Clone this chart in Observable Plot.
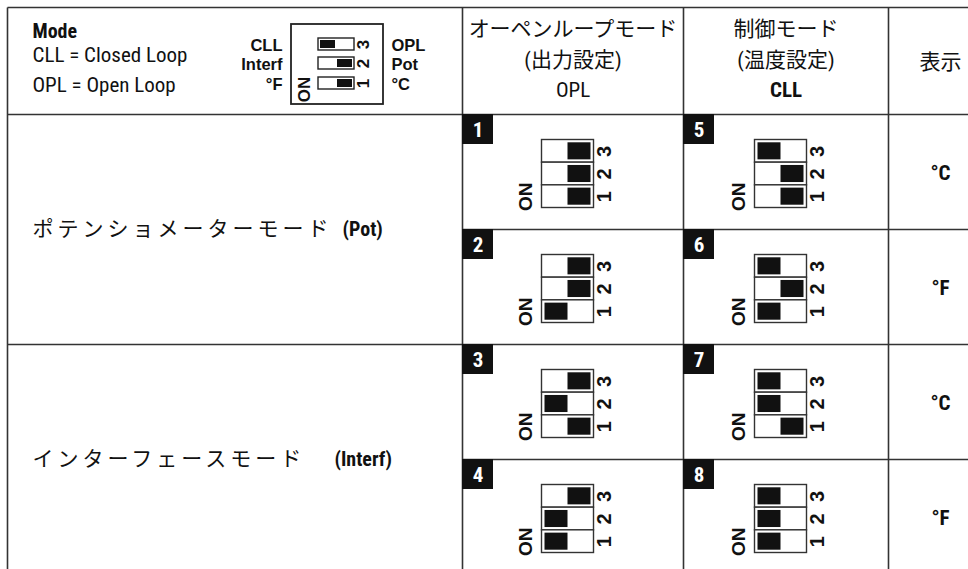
<!DOCTYPE html>
<html><head><meta charset="utf-8">
<script src="https://cdn.jsdelivr.net/npm/d3@7"></script>
<script src="https://cdn.jsdelivr.net/npm/@observablehq/plot@0.6"></script>
<style>
body{margin:0;background:#fff;}
</style>
</head><body><div id="chart"></div>
<script>
// ---------- DATA ----------
const modeLegendTitle = "Mode";
const modeLegendLines = ["CLL = Closed Loop", "OPL = Open Loop"];
const switchDigits = ["3", "2", "1"];            // top to bottom
const legendLeftLabels = ["CLL", "Interf", "°F"];
const legendRightLabels = ["OPL", "Pot", "°C"];
const legendKnobs = ["L", "R", "R"];              // switch 3,2,1
const onLabel = "ON";
const loopHeaderLines = [["オーペンループモード", "(出力設定)", "OPL"], ["制御モード", "(温度設定)", "CLL"]];
const unitHeader = "表示";
const modeNames = ["ポテンショメーターモード", "インターフェースモード"];
const modeCodes = ["(Pot)", "(Interf)"];
const unitLabels = ["°C", "°F", "°C", "°F"];
const settingNumbers = ["1", "2", "3", "4", "5", "6", "7", "8"];
const settingLoopCol = [0, 0, 0, 0, 1, 1, 1, 1];
const settingRow = [0, 1, 2, 3, 0, 1, 2, 3];
const switch3 = ["R", "R", "R", "R", "L", "L", "L", "L"];
const switch2 = ["R", "R", "L", "L", "R", "R", "L", "L"];
const switch1 = ["R", "L", "R", "L", "R", "L", "R", "L"];

// ---------- LAYOUT ----------
const W = 968, H = 569;
const colEdges = [7, 462, 683, 888, 992];
const rowEdges = [7, 114, 229, 344, 459, 574];
const fontCond = '"Liberation Sans Narrow","Roboto Condensed","DejaVu Sans Condensed",Roboto,sans-serif';
const fontSans = '"Liberation Sans",Arial,sans-serif';
const fontJP = '"Liberation Sans Narrow","Roboto Condensed","Noto Sans CJK JP",sans-serif';
const ink = "#111";
const lineCol = "#333";
const headerLineY = [29, 60, 90];
const legendBox = {x1: 291, x2: 383, y1: 24, y2: 104};
const legendSlot = {x1: 318, x2: 354, h: 12, ys: [44, 63, 83], knobW: 15, knobH: 8};
const blockW = 52, blockH = 68, slotH = blockH / 3;

// grid lines
const gridLines = [];
rowEdges.forEach((y, i) => {
  const start = (i === 2 || i === 4) ? colEdges[1] : colEdges[0];
  gridLines.push({x1: start, x2: colEdges[4], y1: y, y2: y});
});
colEdges.slice(0, 4).forEach(x => gridLines.push({x1: x, x2: x, y1: rowEdges[0], y2: rowEdges[5]}));

// header texts
const titleText = [{t: modeLegendTitle, x: 32, y: 31}];
const legendLineTexts = modeLegendLines.map((t, i) => ({t, x: 32, y: 55 + i * 30}));
const loopTexts = [];
loopHeaderLines.forEach((lines, c) => {
  const cx = (colEdges[c + 1] + colEdges[c + 2]) / 2;
  lines.forEach((t, k) => loopTexts.push({t, x: cx, y: headerLineY[k], bold: k === 2 && c === 1}));
});
loopTexts.push({t: unitHeader, x: (colEdges[3] + colEdges[4]) / 2, y: 62, bold: false});

// legend diagram
const legendSlots = legendSlot.ys.map(y => ({x1: legendSlot.x1, x2: legendSlot.x2, y1: y - legendSlot.h / 2, y2: y + legendSlot.h / 2}));
const legendKnobRects = legendSlot.ys.map((y, k) => {
  const x1 = legendKnobs[k] === "L" ? legendSlot.x1 + 2 : legendSlot.x2 - 2 - legendSlot.knobW;
  return {x1, x2: x1 + legendSlot.knobW, y1: y - legendSlot.knobH / 2, y2: y + legendSlot.knobH / 2};
});
const legendLeft = legendSlot.ys.map((y, k) => ({t: legendLeftLabels[k], x: 282, y: y + 1}));
const legendRight = legendSlot.ys.map((y, k) => ({t: legendRightLabels[k], x: 391, y: y + 1}));
const legendRot = legendSlot.ys.map((y, k) => ({t: switchDigits[k], x: 363, y}));
legendRot.push({t: onLabel, x: 304, y: 89});

// mode labels
const modeTexts = modeNames.map((t, i) => ({t, x: 32, y: (rowEdges[1 + 2 * i] + rowEdges[3 + 2 * i]) / 2}));
const modeCodeTexts = modeCodes.map((t, i) => ({t, x: i === 0 ? 342 : 334, y: (rowEdges[1 + 2 * i] + rowEdges[3 + 2 * i]) / 2}));

// unit texts
const unitTexts = unitLabels.map((t, r) => ({t, x: (colEdges[3] + colEdges[4]) / 2, y: (rowEdges[r + 1] + rowEdges[r + 2]) / 2 + 1}));

// setting cells
const numBoxes = [], numTexts = [], slots = [], knobs = [], digitTexts = [], onTexts = [];
settingNumbers.forEach((n, i) => {
  const c = settingLoopCol[i] + 1, r = settingRow[i];
  const x0 = colEdges[c], x1 = colEdges[c + 1], y0 = rowEdges[r + 1], y1 = rowEdges[r + 2];
  const cx = (x0 + x1) / 2, cy = (y0 + y1) / 2;
  const bx = cx - 31, by = cy - 32;
  numBoxes.push({x1: x0, x2: x0 + 31, y1: y0, y2: y0 + 30});
  numTexts.push({t: n, x: x0 + 15.5, y: y0 + 16});
  const states = [switch3[i], switch2[i], switch1[i]];
  states.forEach((s, k) => {
    const sy = by + k * slotH;
    slots.push({x1: bx, x2: bx + blockW, y1: sy, y2: sy + slotH});
    const kx = s === "L" ? bx + 3 : bx + 26;
    knobs.push({x1: kx, x2: kx + 23, y1: sy + 2.8, y2: sy + slotH - 2.8});
    digitTexts.push({t: switchDigits[k], x: bx + 63, y: sy + slotH / 2});
  });
  onTexts.push({t: onLabel, x: bx - 16, y: by + 2.5 * slotH});
});

const chart = Plot.plot({
  width: W, height: H, margin: 0,
  x: {domain: [0, W], range: [0, W], axis: null},
  y: {domain: [0, H], range: [0, H], axis: null},
  style: {background: "#fff"},
  marks: [
    Plot.link(gridLines, {x1: "x1", y1: "y1", x2: "x2", y2: "y2", stroke: lineCol, strokeWidth: 1.6}),
    Plot.text(titleText, {x: "x", y: "y", text: "t", textAnchor: "start", fontSize: 20, fontWeight: "bold", fontFamily: fontCond, fill: ink}),
    Plot.text(legendLineTexts, {x: "x", y: "y", text: "t", textAnchor: "start", fontSize: 21, fontFamily: fontCond, fill: ink}),
    Plot.text(loopTexts.filter(d => !d.bold), {x: "x", y: "y", text: "t", fontSize: 21, fontFamily: fontJP, fill: ink}),
    Plot.text(loopTexts.filter(d => d.bold), {x: "x", y: "y", text: "t", fontSize: 21, fontWeight: "bold", fontFamily: fontJP, fill: ink}),
    // legend diagram
    Plot.rect([legendBox], {x1: "x1", x2: "x2", y1: "y1", y2: "y2", fill: "none", stroke: "#222", strokeWidth: 1.8}),
    Plot.rect(legendSlots, {x1: "x1", x2: "x2", y1: "y1", y2: "y2", fill: "#fff", stroke: "#222", strokeWidth: 1.4}),
    Plot.rect(legendKnobRects, {x1: "x1", x2: "x2", y1: "y1", y2: "y2", fill: ink}),
    Plot.text(legendLeft, {x: "x", y: "y", text: "t", textAnchor: "end", fontSize: 16.5, fontWeight: "bold", fontFamily: fontSans, fill: ink}),
    Plot.text(legendRight, {x: "x", y: "y", text: "t", textAnchor: "start", fontSize: 16.5, fontWeight: "bold", fontFamily: fontSans, fill: ink}),
    Plot.text(legendRot, {x: "x", y: "y", text: "t", rotate: -90, fontSize: 17, fontWeight: "bold", fontFamily: fontSans, fill: ink}),
    // mode labels
    Plot.text(modeTexts, {x: "x", y: "y", text: "t", textAnchor: "start", fontSize: 21, fontFamily: fontJP, fill: ink}),
    Plot.text(modeCodeTexts, {x: "x", y: "y", text: "t", textAnchor: "start", fontSize: 20, fontWeight: "bold", fontFamily: fontCond, fill: ink}),
    // units
    Plot.text(unitTexts, {x: "x", y: "y", text: "t", fontSize: 21, fontWeight: "bold", fontFamily: fontCond, fill: ink}),
    // setting cells
    Plot.rect(numBoxes, {x1: "x1", x2: "x2", y1: "y1", y2: "y2", fill: ink}),
    Plot.text(numTexts, {x: "x", y: "y", text: "t", fontSize: 21, fontWeight: "bold", fontFamily: fontCond, fill: "#fff"}),
    Plot.rect(slots, {x1: "x1", x2: "x2", y1: "y1", y2: "y2", fill: "#fff", stroke: lineCol, strokeWidth: 1.4}),
    Plot.rect(knobs, {x1: "x1", x2: "x2", y1: "y1", y2: "y2", fill: ink}),
    Plot.text(digitTexts, {x: "x", y: "y", text: "t", rotate: -90, fontSize: 20, fontWeight: "bold", fontFamily: fontSans, fill: ink}),
    Plot.text(onTexts, {x: "x", y: "y", text: "t", rotate: -90, fontSize: 19, fontWeight: "bold", fontFamily: fontSans, fill: ink})
  ]
});
// wider letter spacing for the Japanese mode names, as in the reference
d3.select(chart).selectAll("text").filter(function () { return modeNames.includes(this.textContent); })
  .attr("letter-spacing", 4);
document.getElementById("chart").appendChild(chart);
</script>
</body></html>
